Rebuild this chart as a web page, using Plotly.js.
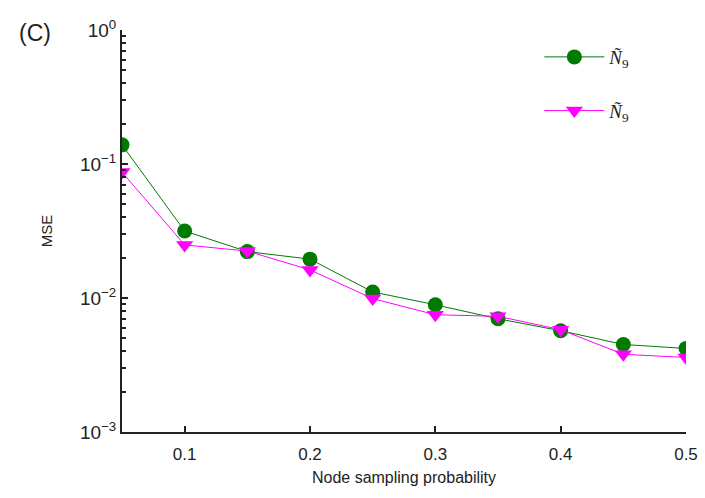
<!DOCTYPE html>
<html>
<head>
<meta charset="utf-8">
<script src="https://cdn.plot.ly/plotly-3.0.1.min.js"></script>
<style>html,body{margin:0;padding:0;background:#fff;}#chart{width:705px;height:498px;}</style>
</head>
<body>
<div id="chart"></div>
<script>
const probs = [0.05, 0.1, 0.15, 0.2, 0.25, 0.3, 0.35, 0.4, 0.45, 0.5];
const mseTilde = [0.139, 0.0316, 0.0222, 0.0195, 0.0111, 0.0089, 0.0070, 0.0057, 0.0045, 0.0042];
const mseHat   = [0.087, 0.0249, 0.0224, 0.0162, 0.0099, 0.0075, 0.0073, 0.0058, 0.0038, 0.0036];
const yTickVals = [1, 0.1, 0.01, 0.001];
const yTickText = ['10<sup>0</sup>', '10<sup>−1</sup>', '10<sup>−2</sup>', '10<sup>−3</sup>'];
const xTickVals = [0.1, 0.2, 0.3, 0.4, 0.5];
const xTickText = ['0.1', '0.2', '0.3', '0.4', '0.5'];
const seriesNames = ['<i>Ñ</i><sub>9</sub>', '<i>Ñ</i><sub>9</sub>'];

const traces = [
  {x: probs, y: mseTilde, name: seriesNames[0], legendgroup: 'a', mode: 'lines+markers',
   line: {color: '#007a00', width: 1}, marker: {symbol: 'circle', size: 15, color: '#007a00'}},
  {x: probs, y: mseHat, name: seriesNames[1], legendgroup: 'b', mode: 'lines+markers',
   line: {color: '#ff00ff', width: 1}, marker: {symbol: 'triangle-down', size: 15, color: '#ff00ff'}}
];

const layout = {
  width: 705, height: 498,
  margin: {l: 122, r: 19, t: 30, b: 66},
  paper_bgcolor: '#fff', plot_bgcolor: '#fff',
  font: {family: 'Liberation Sans, Arial, sans-serif', size: 15, color: '#222'},
  showlegend: true,
  legend: {x: 0.74, y: 0.98, xanchor: 'left', yanchor: 'top', bgcolor: 'rgba(0,0,0,0)',
           font: {family: 'Liberation Serif, serif', size: 19, color: '#222'}, itemwidth: 60, tracegroupgap: 26},
  xaxis: {range: [0.05, 0.5], tickvals: xTickVals, ticktext: xTickText,
          ticks: 'inside', ticklen: 6, tickwidth: 1.5, tickcolor: '#222',
          tickfont: {size: 17}, ticklabelstandoff: 6,
          showline: true, linecolor: '#222', linewidth: 2, showgrid: false, zeroline: false,
          title: {text: 'Node sampling probability', font: {size: 16}, standoff: 8}},
  yaxis: {type: 'log', range: [-3, 0], tickvals: yTickVals, ticktext: yTickText,
          ticks: 'inside', ticklen: 6, tickwidth: 1.5, tickcolor: '#222',
          tickfont: {size: 19},
          minor: {ticks: 'inside', ticklen: 4, tickwidth: 1.5, tickcolor: '#222', showgrid: false, dtick: 'D1'},
          showline: true, linecolor: '#222', linewidth: 2, showgrid: false, zeroline: false,
          title: {text: 'MSE', font: {size: 15}, standoff: 24}},
  annotations: [{text: '(C)', xref: 'paper', yref: 'paper', x: -0.155, y: 1.03, xanchor: 'center', yanchor: 'top',
                 showarrow: false, font: {size: 23, color: '#222'}}]
};
Plotly.newPlot('chart', traces, layout, {displayModeBar: false});
</script>
</body>
</html>
